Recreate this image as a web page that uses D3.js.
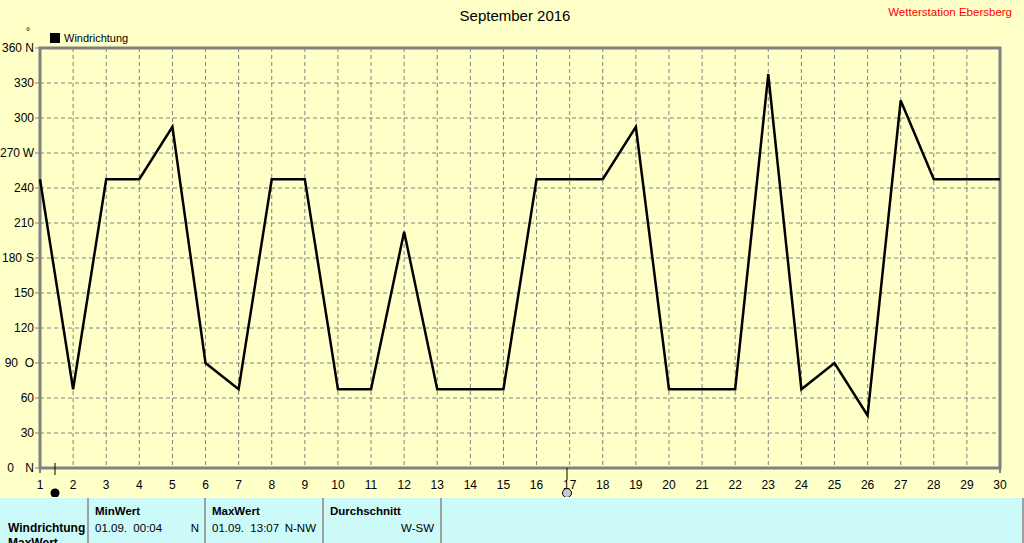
<!DOCTYPE html>
<html>
<head>
<meta charset="utf-8">
<script src="https://cdn.jsdelivr.net/npm/d3@7"></script>
<style>
  body { margin: 0; background: #ffffc8; overflow: hidden; }
  svg { display: block; }
  text { font-family: "Liberation Sans", Arial, sans-serif; white-space: pre; }
</style>
</head>
<body>
<script>
// wind direction per day of month (degrees)
var days = d3.range(1, 31);
var direction = [247.5, 67.5, 247.5, 247.5, 292.5, 90, 67.5, 247.5, 247.5, 67.5,
                 67.5, 202.5, 67.5, 67.5, 67.5, 247.5, 247.5, 247.5, 292.5, 67.5,
                 67.5, 67.5, 337.5, 67.5, 90, 45, 315, 247.5, 247.5, 247.5];
var yTicks = [0, 30, 60, 90, 120, 150, 180, 210, 240, 270, 300, 330, 360];
var compass = {0: "N", 90: "O", 180: "S", 270: "W", 360: "N"};

var tableCols = [
  {head: "MinWert", left: "01.09.  00:04", right: "N"},
  {head: "MaxWert", left: "01.09.  13:07", right: "N-NW"},
  {head: "Durchschnitt", left: "", right: "W-SW"}
];

var W = 1024, H = 543;
var svg = d3.select("body").append("svg").attr("width", W).attr("height", H);

var x = d3.scaleLinear().domain([1, 30]).range([40, 1000]);
var y = d3.scaleLinear().domain([0, 360]).range([468, 48]);

// grid
var grid = svg.append("g").attr("id", "grid");
grid.selectAll("line.v")
    .data(days.slice(1, -1))
    .enter()
  .append("line")
    .attr("x1", function(d) { return x(d); })
    .attr("x2", function(d) { return x(d); })
    .attr("y1", y(360))
    .attr("y2", y(0))
    .attr("stroke", "#808080")
    .attr("stroke-dasharray", "4,3");
grid.selectAll("line.h")
    .data(yTicks.slice(1, -1))
    .enter()
  .append("line")
    .attr("x1", x(1))
    .attr("x2", x(30))
    .attr("y1", function(d) { return y(d); })
    .attr("y2", function(d) { return y(d); })
    .attr("stroke", "#808080")
    .attr("stroke-dasharray", "4,3");

// frame
svg.append("rect")
    .attr("x", x(1)).attr("y", y(360))
    .attr("width", x(30) - x(1)).attr("height", y(0) - y(360))
    .attr("fill", "none").attr("stroke", "#808080").attr("stroke-width", 3);
// axis ends reach a bit below the frame
[1, 30].forEach(function(d) {
  svg.append("line").attr("x1", x(d)).attr("x2", x(d)).attr("y1", y(0)).attr("y2", y(0) + 5)
      .attr("stroke", "#808080").attr("stroke-width", 2);
});

// x labels
svg.append("g").selectAll("text")
    .data(days)
    .enter()
  .append("text")
    .attr("x", function(d) { return x(d); })
    .attr("y", 489)
    .attr("text-anchor", "middle")
    .attr("font-size", 12)
    .text(function(d) { return d; });

// y ticks
var ya = svg.append("g");
ya.selectAll("line")
    .data(yTicks)
    .enter()
  .append("line")
    .attr("x1", x(1) - 5)
    .attr("x2", x(1))
    .attr("y1", function(d) { return y(d); })
    .attr("y2", function(d) { return y(d); })
    .attr("stroke", "#808080");
// numbers with a compass letter are padded like "%3d" in the original
function numEnd(d) {
  if (!compass[d]) return 34;
  if (d === 0) return 14;
  if (d === 90) return 18;
  if (d === 270) return 20;
  return 22;
}
ya.selectAll("text.num")
    .data(yTicks)
    .enter()
  .append("text")
    .attr("x", numEnd)
    .attr("y", function(d) { return y(d) + 4; })
    .attr("text-anchor", "end")
    .attr("font-size", 12)
    .text(function(d) { return d; });
ya.selectAll("text.dir")
    .data(yTicks.filter(function(d) { return compass[d]; }))
    .enter()
  .append("text")
    .attr("x", 34)
    .attr("y", function(d) { return y(d) + 4; })
    .attr("text-anchor", "end")
    .attr("font-size", 12)
    .text(function(d) { return compass[d]; });

svg.append("text").attr("x", 26).attr("y", 35).attr("font-size", 10).text("°");

// line
var line = d3.line()
    .x(function(d, i) { return x(days[i]); })
    .y(function(d) { return y(d); });
svg.append("path")
    .datum(direction)
    .attr("d", line)
    .attr("fill", "none")
    .attr("stroke", "black")
    .attr("stroke-width", 2.5)
    .attr("stroke-linejoin", "miter");

// title, legend
svg.append("text").attr("x", 515).attr("y", 21).attr("text-anchor", "middle")
    .attr("font-size", 15).text("September 2016");
svg.append("text").attr("x", 1012).attr("y", 16).attr("text-anchor", "end")
    .attr("font-size", 11.5).attr("fill", "red").text("Wetterstation Ebersberg");
svg.append("rect").attr("x", 50).attr("y", 33).attr("width", 10).attr("height", 10).attr("fill", "black");
svg.append("text").attr("x", 64).attr("y", 42).attr("font-size", 11).text("Windrichtung");

// slider markers
svg.append("line").attr("x1", 55).attr("x2", 55).attr("y1", 463).attr("y2", 475).attr("stroke", "black");
svg.append("circle").attr("cx", 55).attr("cy", 493).attr("r", 4.5).attr("fill", "black");
svg.append("line").attr("x1", 567).attr("x2", 567).attr("y1", 468).attr("y2", 480).attr("stroke", "black");
svg.append("circle").attr("cx", 567).attr("cy", 493).attr("r", 4.5).attr("fill", "#c8c8c8").attr("stroke", "black");

// table
var tb = svg.append("g").attr("id", "table");
tb.append("rect").attr("x", 0).attr("y", 498).attr("width", 1023).attr("height", 45).attr("fill", "#ccfaf8");
tb.append("line").attr("x1", 0).attr("x2", 1023).attr("y1", 497.5).attr("y2", 497.5).attr("stroke", "white");
tb.append("line").attr("x1", 1023).attr("x2", 1023).attr("y1", 498).attr("y2", 543).attr("stroke", "#a0a0a0").attr("stroke-width", 2);
tb.append("text").attr("x", 8).attr("y", 532).attr("font-size", 12).attr("font-weight", "bold").text("Windrichtung");
tb.append("text").attr("x", 8).attr("y", 547).attr("font-size", 12).attr("font-weight", "bold").text("MaxWert");

var colX = [88, 205, 323, 441];
tb.selectAll("line.sep")
    .data(colX)
    .enter()
  .append("line")
    .attr("x1", function(d) { return d; })
    .attr("x2", function(d) { return d; })
    .attr("y1", 498)
    .attr("y2", 543)
    .attr("stroke", "#a0a0a0")
    .attr("stroke-width", 2);
var cols = tb.selectAll("g.col")
    .data(tableCols)
    .enter()
  .append("g")
    .attr("transform", function(d, i) { return "translate(" + colX[i] + ",0)"; });
cols.append("text").attr("x", 7).attr("y", 515).attr("font-size", 11.5).attr("font-weight", "bold")
    .text(function(d) { return d.head; });
cols.append("text").attr("x", 7).attr("y", 532).attr("font-size", 11.5)
    .text(function(d) { return d.left; });
cols.append("text").attr("x", 111).attr("y", 532).attr("font-size", 11.5).attr("text-anchor", "end")
    .text(function(d) { return d.right; });
</script>
</body>
</html>
